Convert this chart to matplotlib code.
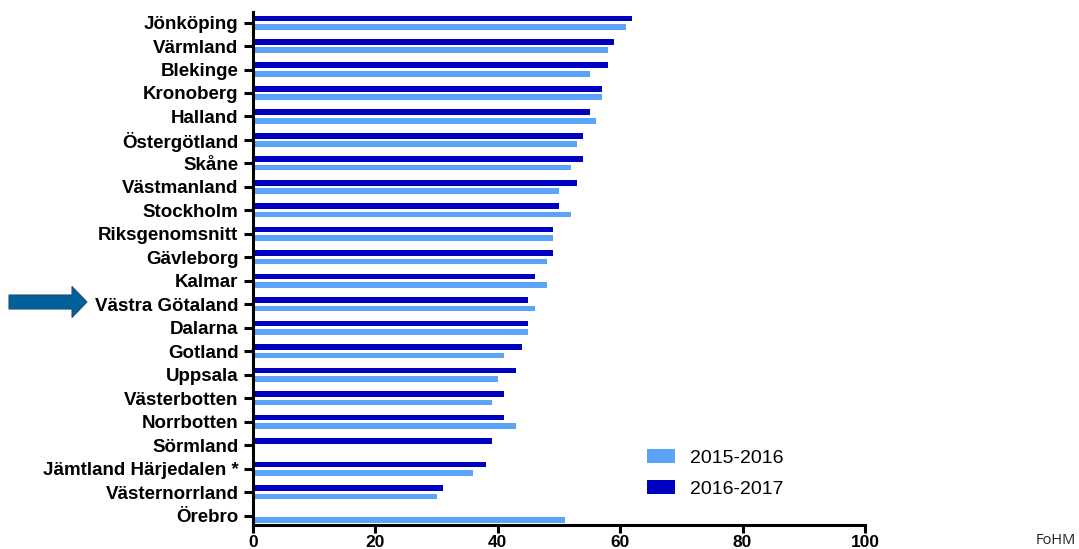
import numpy as np
import matplotlib
matplotlib.use("Agg")
import matplotlib.pyplot as plt
import matplotlib.patches as mpatches

regions = ["Jönköping", "Värmland", "Blekinge", "Kronoberg", "Halland", "Östergötland",
           "Skåne", "Västmanland", "Stockholm", "Riksgenomsnitt", "Gävleborg", "Kalmar",
           "Västra Götaland", "Dalarna", "Gotland", "Uppsala", "Västerbotten", "Norrbotten",
           "Sörmland", "Jämtland Härjedalen *", "Västernorrland", "Örebro"]
vals_2015 = [61, 58, 55, 57, 56, 53, 52, 50, 52, 49, 48, 48,
             46, 45, 41, 40, 39, 43, np.nan, 36, 30, 51]
vals_2016 = [62, 59, 58, 57, 55, 54, 54, 53, 50, 49, 49, 46,
             45, 45, 44, 43, 41, 41, 39, 38, 31, np.nan]
x_ticks = [0, 20, 40, 60, 80, 100]

plt.rcParams["font.family"] = ["Liberation Sans", "DejaVu Sans"]

fig = plt.figure(figsize=(10.79, 5.49), dpi=100)
ax = fig.add_axes([253 / 1079, 1 - 525 / 549, (865 - 253) / 1079, (525 - 12) / 549])

pos = np.arange(len(regions))
h = 0.24
ax.barh(pos - 0.18, vals_2016, height=h, color="#0000C0", label="2016-2017", zorder=2)
ax.barh(pos + 0.18, vals_2015, height=h, color="#5AA5F8", label="2015-2016", zorder=2)

ax.set_ylim(len(regions) - 0.6, -0.45)
ax.set_xlim(0, 100)
ax.set_yticks(pos)
ax.set_yticklabels(regions, fontsize=13.5, fontweight="bold")
ax.set_xticks(x_ticks)
ax.set_xticklabels([str(t) for t in x_ticks], fontsize=12.5, fontweight="bold")

for s in ["top", "right"]:
    ax.spines[s].set_visible(False)
for s in ["left", "bottom"]:
    ax.spines[s].set_linewidth(2.2)
ax.tick_params(axis="y", width=2.2, length=6.5, pad=4)
ax.tick_params(axis="x", width=2.2, length=6, pad=1.2)

handles, labels = ax.get_legend_handles_labels()
leg = ax.legend(handles[::-1], labels[::-1], loc="lower left", bbox_to_anchor=(0.616, 0.019),
                frameon=False, fontsize=14, handlelength=1.4, handleheight=0.7,
                labelspacing=0.7, handletextpad=0.8)

# arrow marking Västra Götaland
arrow = mpatches.FancyArrow(9 / 1079, 1 - 302 / 549, 78 / 1079, 0,
                            width=14 / 549, head_width=31 / 549, head_length=15 / 1079,
                            length_includes_head=True, transform=fig.transFigure,
                            facecolor="#00609A", edgecolor="#1F4E79", linewidth=0.8)
fig.patches.append(arrow)

fig.text(1036 / 1079, 1 - 540 / 549, "FoHM", fontsize=10.5, family="Open Sans",
         va="center", ha="left", color="#222222")

fig.savefig("out.png", dpi=100)
